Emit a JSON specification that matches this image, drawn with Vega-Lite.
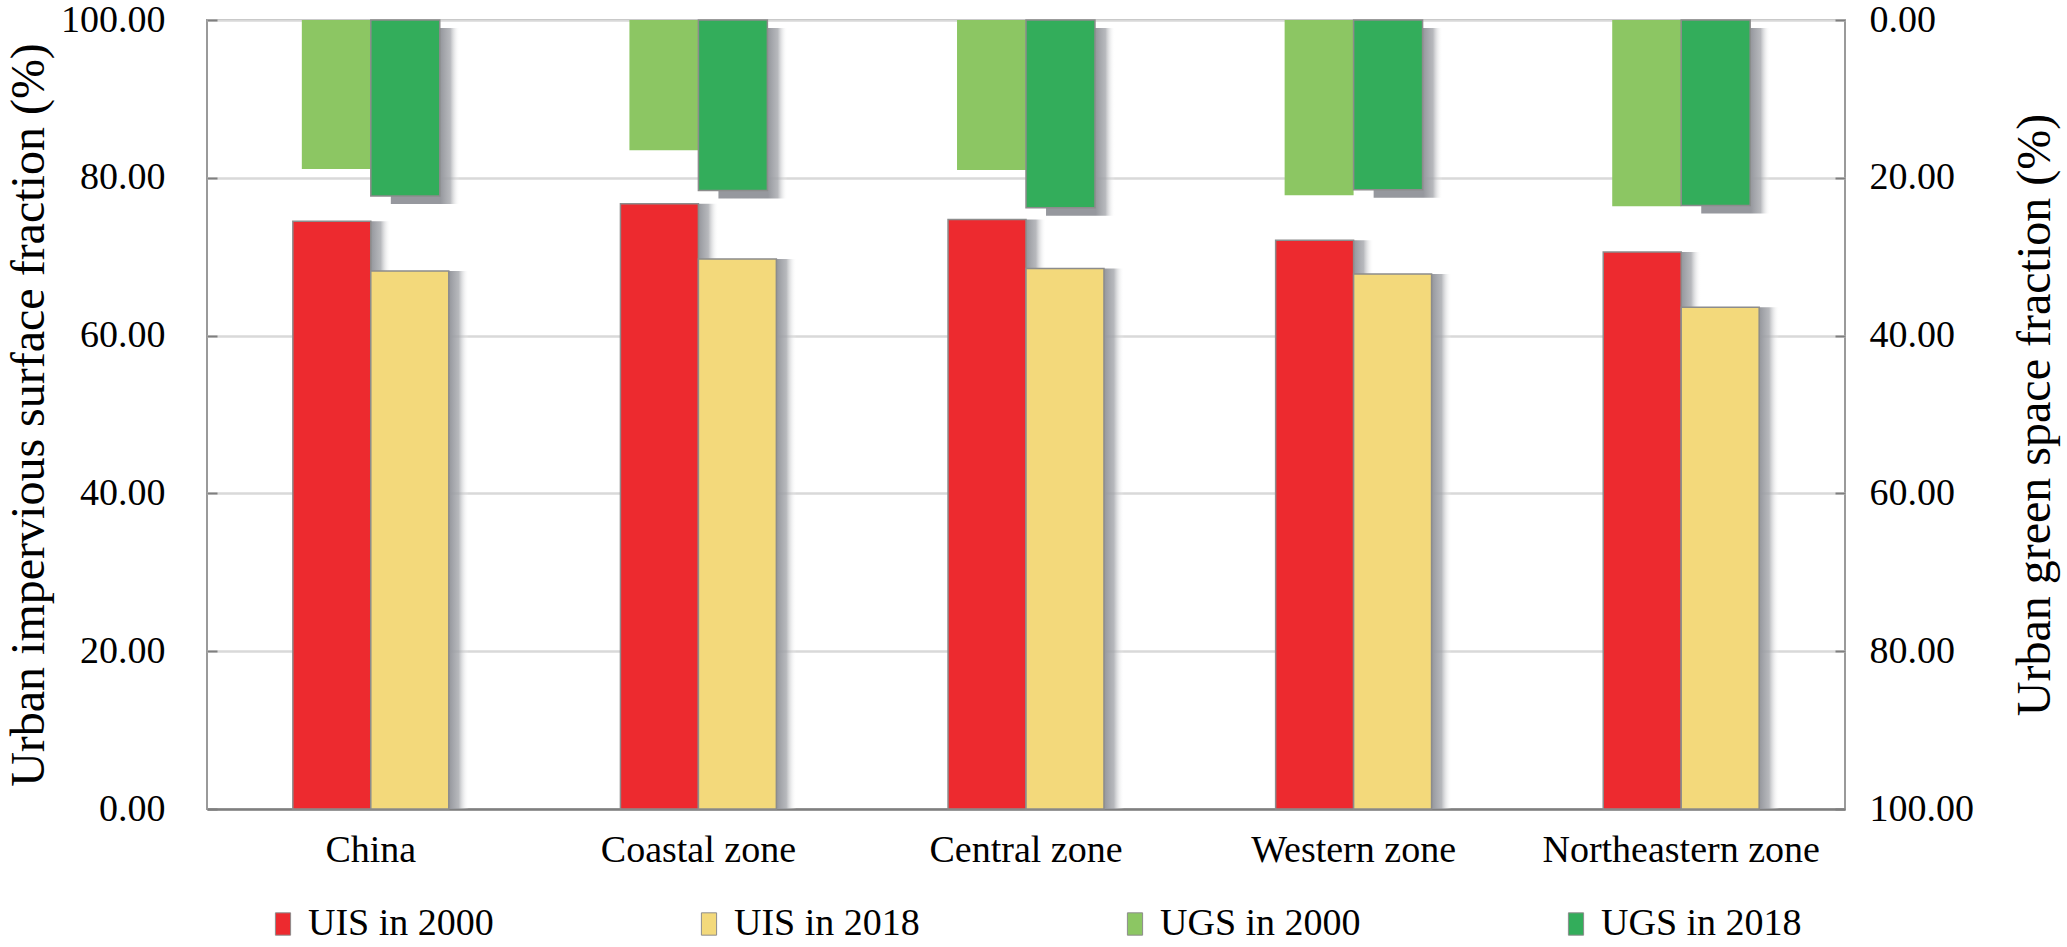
{
  "$schema": "https://vega.github.io/schema/vega-lite/v6.json",
  "description": "Urban impervious surface and urban green space fraction by zone",
  "width": 1638,
  "height": 789,
  "autosize": {"type": "none"},
  "padding": {"left": 207, "top": 20, "right": 222, "bottom": 138},
  "background": "white",
  "config": {
    "font": "Liberation Serif",
    "view": {"stroke": "#9a9a9a", "strokeWidth": 2},
    "axis": {
      "labelFont": "Liberation Serif",
      "titleFont": "Liberation Serif",
      "labelColor": "#000000",
      "titleColor": "#000000",
      "labelFontSize": 38,
      "titleFontSize": 48,
      "titleFontWeight": "normal",
      "labelLimit": 0
    },
    "legend": {"labelFont": "Liberation Serif", "labelColor": "#000000", "labelLimit": 0}
  },
  "data": {
    "values": [
      {"zone": "China", "group": "UIS", "series": "UIS in 2000", "value": 74.5},
      {"zone": "China", "group": "UIS", "series": "UIS in 2018", "value": 68.2},
      {"zone": "China", "group": "UGS", "series": "UGS in 2000", "value": 18.9},
      {"zone": "China", "group": "UGS", "series": "UGS in 2018", "value": 22.3},
      {"zone": "Coastal zone", "group": "UIS", "series": "UIS in 2000", "value": 76.7},
      {"zone": "Coastal zone", "group": "UIS", "series": "UIS in 2018", "value": 69.7},
      {"zone": "Coastal zone", "group": "UGS", "series": "UGS in 2000", "value": 16.5},
      {"zone": "Coastal zone", "group": "UGS", "series": "UGS in 2018", "value": 21.6},
      {"zone": "Central zone", "group": "UIS", "series": "UIS in 2000", "value": 74.7},
      {"zone": "Central zone", "group": "UIS", "series": "UIS in 2018", "value": 68.5},
      {"zone": "Central zone", "group": "UGS", "series": "UGS in 2000", "value": 19.0},
      {"zone": "Central zone", "group": "UGS", "series": "UGS in 2018", "value": 23.8},
      {"zone": "Western zone", "group": "UIS", "series": "UIS in 2000", "value": 72.1},
      {"zone": "Western zone", "group": "UIS", "series": "UIS in 2018", "value": 67.8},
      {"zone": "Western zone", "group": "UGS", "series": "UGS in 2000", "value": 22.2},
      {"zone": "Western zone", "group": "UGS", "series": "UGS in 2018", "value": 21.5},
      {"zone": "Northeastern zone", "group": "UIS", "series": "UIS in 2000", "value": 70.6},
      {"zone": "Northeastern zone", "group": "UIS", "series": "UIS in 2018", "value": 63.6},
      {"zone": "Northeastern zone", "group": "UGS", "series": "UGS in 2000", "value": 23.6},
      {"zone": "Northeastern zone", "group": "UGS", "series": "UGS in 2018", "value": 23.5}
    ]
  },
  "encoding": {
    "x": {
      "field": "zone",
      "type": "nominal",
      "sort": ["China", "Coastal zone", "Central zone", "Western zone", "Northeastern zone"],
      "scale": {"paddingInner": 0.524, "paddingOuter": 0.262},
      "axis": {
        "title": null,
        "labelAngle": 0,
        "ticks": false,
        "grid": false,
        "labelPadding": 22,
        "domainColor": "#7f7f7f",
        "domainWidth": 2.5
      }
    }
  },
  "layer": [
    {
      "transform": [{"filter": "datum.group === 'UIS'"}],
      "mark": {
        "type": "bar",
        "y2Offset": -3,
        "color": {
          "gradient": "linear",
          "x1": 0, "x2": 1, "y1": 0, "y2": 0,
          "stops": [
            {"offset": 0, "color": "rgba(150,152,158,1)"},
            {"offset": 0.75, "color": "rgba(150,152,158,1)"},
            {"offset": 0.87, "color": "rgba(165,167,172,0.8)"},
            {"offset": 1, "color": "rgba(255,255,255,0)"}
          ]
        }
      },
      "encoding": {
        "xOffset": {
          "field": "series",
          "type": "nominal",
          "sort": ["UIS in 2000", "UIS in 2018"],
          "scale": {"paddingInner": 0, "paddingOuter": 0, "range": [20, 176]}
        },
        "y": {
          "field": "value",
          "type": "quantitative",
          "scale": {"domain": [0, 100], "nice": false},
          "axis": null
        }
      }
    },
    {
      "transform": [{"filter": "datum.series === 'UGS in 2018'"}],
      "mark": {
        "type": "bar",
        "yOffset": 8,
        "color": {
          "gradient": "linear",
          "x1": 0, "x2": 1, "y1": 0, "y2": 0,
          "stops": [
            {"offset": 0, "color": "rgba(150,152,158,1)"},
            {"offset": 0.72, "color": "rgba(150,152,158,1)"},
            {"offset": 0.86, "color": "rgba(165,167,172,0.8)"},
            {"offset": 1, "color": "rgba(255,255,255,0)"}
          ]
        }
      },
      "encoding": {
        "xOffset": {
          "field": "series",
          "type": "nominal",
          "scale": {
            "domain": ["UGS in 2000", "UGS in 2018"],
            "paddingInner": 0,
            "paddingOuter": 0.1304,
            "range": [20, 176]
          }
        },
        "y": {
          "field": "value",
          "type": "quantitative",
          "scale": {"domain": [0, 100], "nice": false, "reverse": true},
          "axis": null
        }
      }
    },
    {
      "transform": [{"filter": "datum.group === 'UIS'"}],
      "mark": {"type": "bar", "stroke": "#8c8c8c", "strokeWidth": 1.5},
      "encoding": {
        "xOffset": {
          "field": "series",
          "type": "nominal",
          "sort": ["UIS in 2000", "UIS in 2018"],
          "scale": {"paddingInner": 0, "paddingOuter": 0}
        },
        "y": {
          "field": "value",
          "type": "quantitative",
          "scale": {"domain": [0, 100], "nice": false},
          "axis": {
            "orient": "left",
            "title": "Urban impervious surface fraction (%)",
            "values": [0, 20, 40, 60, 80, 100],
            "format": ".2f",
            "grid": true,
            "gridColor": "#d9d9d9",
            "gridWidth": 2.5,
            "domain": false,
            "tickSize": -10,
            "tickWidth": 2,
            "tickColor": "#7f7f7f",
            "labelPadding": 52,
            "titlePadding": 7
          }
        },
        "color": {
          "field": "series",
          "type": "nominal",
          "scale": {
            "domain": ["UIS in 2000", "UIS in 2018", "UGS in 2000", "UGS in 2018"],
            "range": ["#ED2A2F", "#F3D97B", "#8CC663", "#33AD5B"]
          },
          "legend": {
            "title": null,
            "orient": "none",
            "legendX": 57,
            "legendY": 885,
            "direction": "horizontal",
            "symbolType": "M-0.68,-1L0.68,-1L0.68,1L-0.68,1Z",
            "symbolSize": 500,
            "symbolStrokeColor": "#9a9a9a",
            "symbolStrokeWidth": 1,
            "labelFontSize": 38,
            "labelOffset": 6,
            "columnPadding": 196
          }
        }
      }
    },
    {
      "transform": [{"filter": "datum.group === 'UGS'"}],
      "mark": {"type": "bar", "stroke": "#8c8c8c", "strokeWidth": 1.5},
      "encoding": {
        "xOffset": {
          "field": "series",
          "type": "nominal",
          "sort": ["UGS in 2000", "UGS in 2018"],
          "scale": {"paddingInner": 0, "paddingOuter": 0.1304}
        },
        "y": {
          "field": "value",
          "type": "quantitative",
          "scale": {"domain": [0, 100], "nice": false, "reverse": true},
          "axis": {
            "orient": "right",
            "title": "Urban green space fraction (%)",
            "titleAngle": 270,
            "values": [0, 20, 40, 60, 80, 100],
            "format": ".2f",
            "grid": false,
            "domain": false,
            "tickSize": -10,
            "tickWidth": 2,
            "tickColor": "#7f7f7f",
            "labelPadding": 34,
            "titlePadding": 86
          }
        },
        "strokeOpacity": {
          "condition": {"test": "datum.series === 'UGS in 2000'", "value": 0},
          "value": 1
        },
        "color": {
          "field": "series",
          "type": "nominal",
          "scale": {
            "domain": ["UIS in 2000", "UIS in 2018", "UGS in 2000", "UGS in 2018"],
            "range": ["#ED2A2F", "#F3D97B", "#8CC663", "#33AD5B"]
          }
        }
      }
    }
  ],
  "resolve": {"scale": {"y": "independent", "xOffset": "independent"}}
}
